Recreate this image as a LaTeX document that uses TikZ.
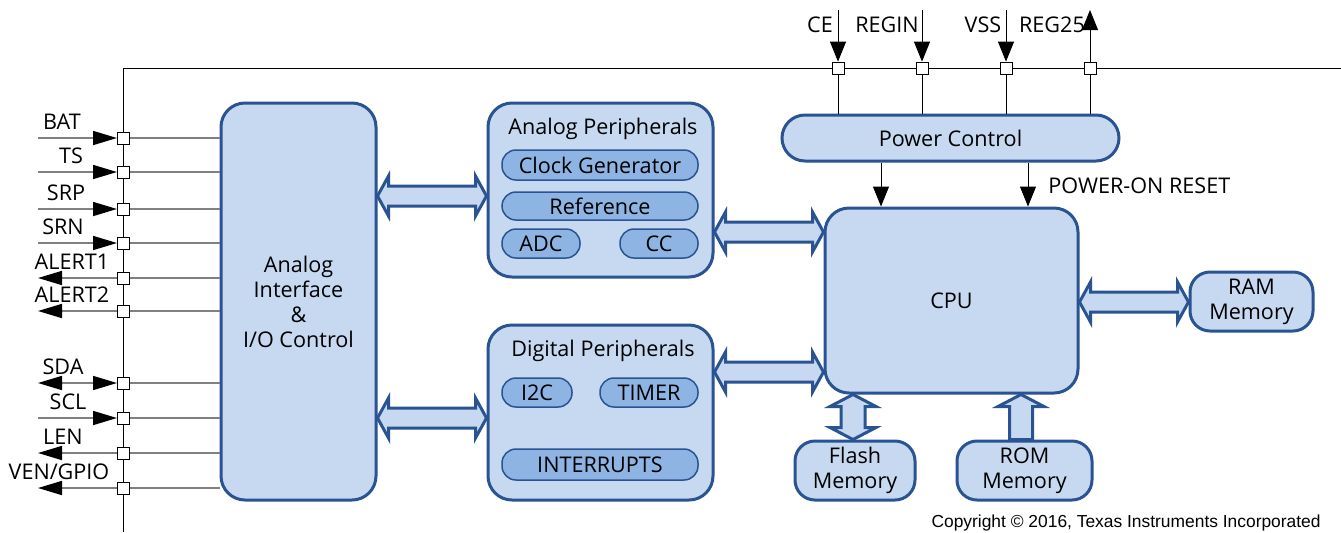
\documentclass[tikz,border=0pt]{standalone}
\usepackage{fontspec}
\setmainfont{Open Sans}
\newfontfamily\cpyfont{Liberation Sans}
\usepackage{tikz}
\usetikzlibrary{arrows.meta, calc, positioning}
\definecolor{tiblue}{HTML}{2A5391}
\definecolor{tifill}{HTML}{C6D9F1}
\definecolor{tisub}{HTML}{8DB4E2}
\definecolor{tiwire}{HTML}{808080}
\newcommand\blkfont{\fontsize{10.8}{12.5}\selectfont}
\tikzset{
  blk/.style = {draw=tiblue, fill=tifill, line width=1.5pt,
    rounded corners=12pt, align=center, inner sep=0pt, font=\blkfont},
  mem/.style = {blk, rounded corners=10pt, minimum height=29.5pt},
  sub/.style = {draw=tiblue, fill=tisub, line width=0.75pt,
    rounded corners=7pt, inner sep=0pt, font=\blkfont},
  ttl/.style = {inner sep=0pt, font=\blkfont},
  pin/.style = {draw=black, fill=white, line width=0.4pt,
    minimum size=6pt, inner sep=0pt},
  bus/.style = {draw=black, line width=0.5pt},
  wire/.style = {draw=tiwire, line width=0.8pt},
  inw/.style = {-{Triangle[length=12pt, width=7pt, color=black]}},
  outw/.style = {{Triangle[length=12pt, width=7pt, color=black]}-},
  biw/.style = {{Triangle[length=12pt, width=7pt, color=black]}-{Triangle[length=12pt, width=7pt, color=black]}},
  sig/.style = {draw=black, line width=0.5pt, -{Triangle[length=10pt, width=8pt]}},
  fat/.style = {draw=tiblue, fill=tifill, line width=1.5pt}
}
% fat double arrow between two nodes, left to right, at height #3
\newcommand\hfat[3]{%
  \draw[fat] let \p1=(#1.east), \p2=(#2.west), \p3=(0,#3) in
    (\x1,\y3) -- (\x1+5.5pt,\y3+10pt) -- (\x1+5.5pt,\y3+5pt) -- (\x2-5.5pt,\y3+5pt)
    -- (\x2-5.5pt,\y3+10pt) -- (\x2,\y3) -- (\x2-5.5pt,\y3-10pt) -- (\x2-5.5pt,\y3-5pt)
    -- (\x1+5.5pt,\y3-5pt) -- (\x1+5.5pt,\y3-10pt) -- cycle;}
% fat double arrow between two nodes, top to bottom, at x #3
\newcommand\vfat[3]{%
  \draw[fat] let \p1=(#1.south), \p2=(#2.north), \p3=(#3,0) in
    (\x3,\y1) -- (\x3+11.5pt,\y1-6pt) -- (\x3+6pt,\y1-6pt) -- (\x3+6pt,\y2+6pt)
    -- (\x3+11.5pt,\y2+6pt) -- (\x3,\y2) -- (\x3-11.5pt,\y2+6pt) -- (\x3-6pt,\y2+6pt)
    -- (\x3-6pt,\y1-6pt) -- (\x3-11.5pt,\y1-6pt) -- cycle;}

\begin{document}
\begin{tikzpicture}[x=0.5pt, y=-0.5pt]
\useasboundingbox (0,0) rectangle (1341,532);

% buses
\draw[bus] (123,532) -- (123,68) -- (1341,68);

% blocks
\node[blk, minimum width=77.5pt, minimum height=198.5pt] (ai) at (298.5,301.5)
  {Analog\\Interface\\\&\\I/O Control};
\node[blk, minimum width=112.5pt, minimum height=87pt] (ap) at (600.5,190) {};
\node[ttl] (apt) at (603,129) {Analog Peripherals};
\node[sub, minimum width=98pt, minimum height=15pt] (clk) at (600,165) {Clock Generator};
\node[sub, minimum width=98pt, minimum height=14pt] (ref) at (600,206) {Reference};
\node[sub, minimum width=39pt, minimum height=14.5pt] (adc) at (541,243.5) {ADC};
\node[sub, minimum width=39pt, minimum height=14.5pt] (cc) at (659,243.5) {CC};
\node[blk, minimum width=112.5pt, minimum height=87.5pt] (dp) at (600.5,412.5) {};
\node[ttl] (dpt) at (603,351) {Digital Peripherals};
\node[sub, minimum width=35pt, minimum height=14.5pt] (i2c) at (537,392.5) {I2C};
\node[sub, minimum width=49pt, minimum height=14.5pt] (tmr) at (649,392.5) {TIMER};
\node[sub, minimum width=98pt, minimum height=15.5pt] (intr) at (600,464.5) {INTERRUPTS};
\node[blk, rounded corners=11.5pt, minimum width=168.5pt, minimum height=23pt] (pc)
  at (950.5,138) {Power Control};
\node[blk, minimum width=126.5pt, minimum height=92.5pt] (cpu) at (951.5,300.5) {CPU};
\node[mem, minimum width=61.5pt] (ram) at (1251.5,301.5) {RAM\\Memory};
\node[mem, minimum width=60pt] (fl) at (855,470.5) {Flash\\Memory};
\node[mem, minimum width=67.5pt] (rom) at (1024.5,470.5) {ROM\\Memory};

% fat buses
\hfat{ai}{ap}{196}
\hfat{ai}{dp}{418}
\hfat{ap}{cpu}{232}
\hfat{dp}{cpu}{372}
\hfat{cpu}{ram}{302}
\vfat{cpu}{fl}{853}
\draw[fat] let \p1=(cpu.south), \p2=(rom.north), \p3=(1021,0) in
  (\x3,\y1) -- (\x3+11.5pt,\y1-6pt) -- (\x3+5.75pt,\y1-6pt) -- (\x3+5.75pt,\y2)
  -- (\x3-5.75pt,\y2) -- (\x3-5.75pt,\y1-6pt) -- (\x3-11.5pt,\y1-6pt) -- cycle;

% left pins
\foreach \nm/\yy/\tx/\lx/\dir in {bat/138/BAT/62/inw, ts/172/TS/71/inw,
    srp/209/SRP/66/inw, srn/243/SRN/63/inw, al1/278/ALERT1/72/outw,
    al2/311/ALERT2/72/outw, sda/383/SDA/63/biw, scl/418/SCL/68/inw,
    len/453/LEN/63/outw, ven/488/{VEN/GPIO}/59/outw} {
  \coordinate (e\nm) at (38,\yy);
  \draw[wire] (123,\yy) -- (ai.west |- 0,\yy);
  \draw[wire, \dir] (e\nm) -- (117,\yy);
  \node[pin] (p\nm) at (123,\yy) {};
  \node[ttl] (l\nm) at (\lx,\yy-16) {\tx};
}

% top pins
\foreach \nm/\xx/\tx/\lx in {ce/838/CE/820, rgin/922/REGIN/887, vss/1006/VSS/983} {
  \coordinate (t\nm) at (\xx,10);
  \node[pin] (p\nm) at (\xx,68) {};
  \draw[sig] (t\nm) -- (p\nm.north);
  \draw[bus] (p\nm.south) -- (p\nm |- pc.north);
  \node[ttl] (l\nm) at (\lx,25) {\tx};
}
\coordinate (tr25) at (1090,10);
\node[pin] (pr25) at (1090,68) {};
\draw[bus] (pc.north -| pr25) -- (pr25.south);
\draw[sig] (pr25.north) -- (tr25);
\node[ttl] (lr25) at (1052,25) {REG25};

% power control to cpu
\coordinate (r1) at (881,0);
\coordinate (r2) at (1028,0);
\draw[sig] (pc.south -| r1) -- (cpu.north -| r1);
\draw[sig] (pc.south -| r2) -- (cpu.north -| r2);
\node[ttl, anchor=west] (por) at (1048,186) {POWER-ON RESET};

\node[inner sep=0pt, anchor=east, font=\cpyfont\fontsize{8.7}{10}\selectfont] (cpy)
  at (1321,523) {Copyright \textcopyright{} 2016, Texas Instruments Incorporated};
\end{tikzpicture}
\end{document}
